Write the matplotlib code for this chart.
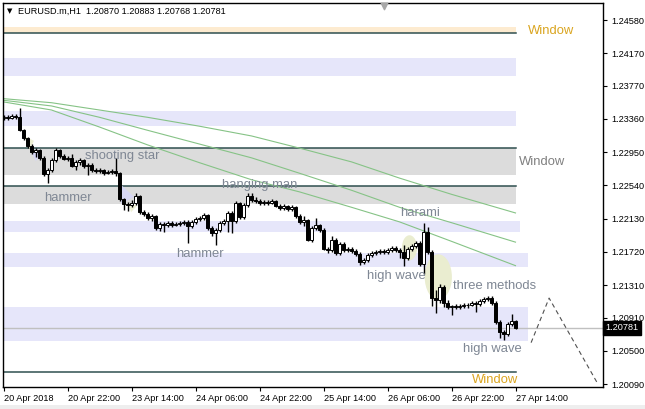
import matplotlib
matplotlib.use("Agg")
import matplotlib.pyplot as plt
import matplotlib.transforms as mtransforms
from matplotlib.patches import Ellipse, Polygon, Rectangle

plt.rcParams['font.family'] = ['Liberation Sans', 'DejaVu Sans']

# EURUSD.m H1, one candle per hour
opens = [1.2337, 1.2338, 1.2337, 1.2340, 1.2338, 1.2322, 1.2312, 1.2303, 1.2295, 1.2298,
         1.2288, 1.2268, 1.2273, 1.2285, 1.2298, 1.2290, 1.2287, 1.2288, 1.2278, 1.2283,
         1.2285, 1.2278, 1.2279, 1.2273, 1.2272, 1.2273, 1.2269, 1.2271, 1.2272, 1.2269,
         1.2237, 1.2231, 1.2230, 1.2232, 1.2241, 1.2221, 1.2219, 1.2214, 1.2216, 1.2201,
         1.2206, 1.2205, 1.2208, 1.2205, 1.2206, 1.2208, 1.2209, 1.2204, 1.2209, 1.2213,
         1.2214, 1.2217, 1.2201, 1.2195, 1.2199, 1.2208, 1.2210, 1.2220, 1.2210, 1.2232,
         1.2215, 1.2230, 1.2241, 1.2236, 1.2235, 1.2232, 1.2234, 1.2232, 1.2235, 1.2229,
         1.2226, 1.2229, 1.2225, 1.2227, 1.2216, 1.2209, 1.2211, 1.2187, 1.2201, 1.2205,
         1.2199, 1.2176, 1.2174, 1.2187, 1.2171, 1.2182, 1.2174, 1.2176, 1.2173, 1.2169,
         1.2160, 1.2162, 1.2168, 1.2171, 1.2172, 1.2173, 1.2172, 1.2174, 1.2177, 1.2174,
         1.2172, 1.2164, 1.2176, 1.2179, 1.2183, 1.2157, 1.2197, 1.2172, 1.2115, 1.2113,
         1.2129, 1.2109, 1.2104, 1.2105, 1.2104, 1.2105, 1.2106, 1.2107, 1.2109, 1.2108,
         1.2111, 1.2114, 1.2115, 1.2109, 1.2086, 1.2073, 1.2071, 1.2083, 1.20870]
highs = [1.2341, 1.2341, 1.2342, 1.2342, 1.2349, 1.2323, 1.2314, 1.2305, 1.2300, 1.2299,
         1.2290, 1.2275, 1.2288, 1.2300, 1.2299, 1.2293, 1.2290, 1.2293, 1.2285, 1.2288,
         1.2287, 1.2282, 1.2282, 1.2275, 1.2275, 1.2274, 1.2273, 1.2274, 1.2288, 1.2271,
         1.2238, 1.2234, 1.2236, 1.2245, 1.2242, 1.2224, 1.2221, 1.2219, 1.2217, 1.2209,
         1.2209, 1.2210, 1.2210, 1.2209, 1.2210, 1.2211, 1.2211, 1.2211, 1.2215, 1.2216,
         1.2220, 1.2219, 1.2204, 1.2201, 1.2210, 1.2213, 1.2222, 1.2222, 1.2235, 1.2234,
         1.2232, 1.2245, 1.2245, 1.2240, 1.2237, 1.2236, 1.2236, 1.2237, 1.2236, 1.2231,
         1.2231, 1.2230, 1.2230, 1.2229, 1.2219, 1.2216, 1.2213, 1.2204, 1.2214, 1.2206,
         1.2201, 1.2178, 1.2192, 1.2189, 1.2184, 1.2184, 1.2178, 1.2178, 1.2176, 1.2172,
         1.2164, 1.2171, 1.2173, 1.2174, 1.2176, 1.2176, 1.2177, 1.2179, 1.2179, 1.2177,
         1.2181, 1.2178, 1.2182, 1.2185, 1.2185, 1.2208, 1.2203, 1.2174, 1.2125, 1.2132,
         1.2131, 1.2113, 1.2106, 1.2108, 1.2108, 1.2109, 1.2109, 1.2111, 1.2111, 1.2114,
         1.2116, 1.2118, 1.2118, 1.2111, 1.2088, 1.2076, 1.2086, 1.2095, 1.20883]
lows = [1.2335, 1.2335, 1.2336, 1.2336, 1.2321, 1.2310, 1.2300, 1.2293, 1.2289, 1.2285,
        1.2266, 1.2257, 1.2271, 1.2283, 1.2288, 1.2285, 1.2284, 1.2277, 1.2273, 1.2279,
        1.2275, 1.2267, 1.2271, 1.2269, 1.2269, 1.2267, 1.2268, 1.2268, 1.2266, 1.2235,
        1.2224, 1.2222, 1.2227, 1.2230, 1.2219, 1.2216, 1.2211, 1.2210, 1.2199, 1.2198,
        1.2197, 1.2203, 1.2203, 1.2204, 1.2204, 1.2205, 1.2183, 1.2201, 1.2206, 1.2210,
        1.2211, 1.2199, 1.2192, 1.2181, 1.2197, 1.2205, 1.2197, 1.2195, 1.2208, 1.2213,
        1.2213, 1.2227, 1.2234, 1.2232, 1.2230, 1.2230, 1.2230, 1.2231, 1.2227, 1.2224,
        1.2224, 1.2222, 1.2222, 1.2214, 1.2206, 1.2204, 1.2185, 1.2184, 1.2199, 1.2197,
        1.2174, 1.2171, 1.2172, 1.2168, 1.2168, 1.2172, 1.2172, 1.2171, 1.2167, 1.2156,
        1.2157, 1.2160, 1.2166, 1.2168, 1.2169, 1.2169, 1.2169, 1.2172, 1.2172, 1.2164,
        1.2155, 1.2162, 1.2173, 1.2177, 1.2155, 1.2145, 1.2169, 1.2105, 1.2097, 1.2109,
        1.2104, 1.2102, 1.2094, 1.2102, 1.2102, 1.2103, 1.2103, 1.2105, 1.2098, 1.2105,
        1.2109, 1.2111, 1.2106, 1.2083, 1.2066, 1.2063, 1.2068, 1.2081, 1.20768]
closes = [1.2338, 1.2337, 1.2340, 1.2338, 1.2322, 1.2312, 1.2303, 1.2295, 1.2298, 1.2288,
          1.2268, 1.2273, 1.2285, 1.2298, 1.2290, 1.2287, 1.2288, 1.2278, 1.2283, 1.2285,
          1.2278, 1.2279, 1.2273, 1.2272, 1.2273, 1.2269, 1.2271, 1.2272, 1.2269, 1.2237,
          1.2231, 1.2230, 1.2232, 1.2241, 1.2221, 1.2219, 1.2214, 1.2216, 1.2201, 1.2206,
          1.2205, 1.2208, 1.2205, 1.2206, 1.2208, 1.2209, 1.2204, 1.2209, 1.2213, 1.2214,
          1.2217, 1.2201, 1.2195, 1.2199, 1.2208, 1.2210, 1.2220, 1.2210, 1.2232, 1.2215,
          1.2230, 1.2241, 1.2236, 1.2235, 1.2232, 1.2234, 1.2232, 1.2235, 1.2229, 1.2226,
          1.2229, 1.2225, 1.2227, 1.2216, 1.2209, 1.2211, 1.2187, 1.2201, 1.2205, 1.2199,
          1.2176, 1.2174, 1.2187, 1.2171, 1.2182, 1.2174, 1.2176, 1.2173, 1.2169, 1.2160,
          1.2162, 1.2168, 1.2171, 1.2172, 1.2173, 1.2172, 1.2174, 1.2177, 1.2174, 1.2172,
          1.2164, 1.2176, 1.2179, 1.2183, 1.2157, 1.2197, 1.2172, 1.2115, 1.2113, 1.2129,
          1.2109, 1.2104, 1.2105, 1.2104, 1.2105, 1.2106, 1.2107, 1.2109, 1.2108, 1.2111,
          1.2114, 1.2115, 1.2109, 1.2086, 1.2073, 1.2071, 1.2083, 1.2087, 1.20781]

time_ticks = [0, 16, 32, 48, 64, 80, 96, 112, 128]
time_labels = ["20 Apr 2018", "20 Apr 22:00", "23 Apr 14:00", "24 Apr 06:00", "24 Apr 22:00",
               "25 Apr 14:00", "26 Apr 06:00", "26 Apr 22:00", "27 Apr 14:00"]
price_ticks = [1.24580, 1.24170, 1.23770, 1.23360, 1.22950, 1.22540,
               1.22130, 1.21720, 1.21310, 1.20910, 1.20500, 1.20090]
last_price = 1.20781

# three moving averages, read every dozen bars or so
ma_bars = [0, 12, 24, 36, 49, 62, 74, 87, 99, 112, 128]
ma_1 = [1.2361, 1.2356, 1.2347, 1.2338, 1.2327, 1.2315, 1.2300, 1.2283, 1.2263, 1.2243, 1.2220]
ma_2 = [1.2359, 1.2352, 1.2338, 1.2322, 1.2305, 1.2288, 1.2269, 1.2248, 1.2227, 1.2208, 1.2184]
ma_3 = [1.2357, 1.2347, 1.2326, 1.2304, 1.2282, 1.2261, 1.2246, 1.2227, 1.2209, 1.2185, 1.2155]

# zones drawn by the pattern indicator
zone_lo = [1.24420, 1.23889, 1.23272, 1.22668, 1.22310, 1.21965, 1.21533, 1.20620]
zone_hi = [1.24494, 1.24111, 1.23457, 1.23001, 1.22532, 1.22101, 1.21706, 1.21040]
zone_end = [128, 128, 128, 128, 128, 129, 131, 131]
zone_kind = ['gap', 'sr', 'sr', 'window', 'window', 'sr', 'sr', 'sr']
window_lines = [1.24420, 1.23001, 1.22532, 1.20238]

pattern_names = ["shooting star", "hammer", "hanging man", "hammer", "harami",
                 "high wave", "three methods", "high wave"]
pattern_x = [20.4, 10.1, 54.6, 43.1, 99.1, 90.9, 112.4, 114.9]
pattern_y = [1.2290, 1.2238, 1.22545, 1.2169, 1.2220, 1.2142, 1.2130, 1.2052]

window_names = ["Window", "Window", "Window"]
window_x = [131.1, 128.9, 117.1]
window_y = [1.2444, 1.2283, 1.2014]
window_cols = ['#DAA520', '#808080', '#DAA520']

forecast_x = [131.9, 136.4, 148.6]
forecast_y = [1.2060, 1.2115, 1.2009]

fig = plt.figure(figsize=(6.45, 4.09), dpi=100)
ax = fig.add_axes([3 / 645, 22 / 409, 600 / 645, 384 / 409])
ax.set_xlim(-0.125, 149.875)
ax.set_ylim(1.20053, 1.24790)

zone_cols = {'gap': '#FDEBD0', 'sr': '#E6E6FA', 'window': '#DCDCDC'}
for lo, hi, end, kind in zip(zone_lo, zone_hi, zone_end, zone_kind):
    ax.fill_between([-1, end], lo, hi, color=zone_cols[kind], lw=0, zorder=0)
for p in window_lines:
    ax.plot([-1, 128], [p, p], color='#2F4F4F', lw=1.1, zorder=1)

# pattern highlight shapes
ax.add_patch(Polygon([(5.1, 1.2315), (7.6, 1.2309), (6.6, 1.2298)], closed=True,
                     facecolor='#EEF0D4', edgecolor='none', zorder=1))
ax.add_patch(Polygon([(6.6, 1.2299), (9.4, 1.2294), (8.1, 1.2284)], closed=True,
                     facecolor='#D6D6F4', edgecolor='none', zorder=1))
ax.add_patch(Polygon([(29.1, 1.2256), (32.6, 1.2240), (29.4, 1.2231)], closed=True,
                     facecolor='#D6D6F4', edgecolor='none', zorder=1))
ax.add_patch(Polygon([(31.1, 1.2232), (33.4, 1.2229), (31.9, 1.2221)], closed=True,
                     facecolor='#EEF0D4', edgecolor='none', zorder=1))
ax.add_patch(Ellipse((101.5, 1.2177), 3.8, 0.0031, facecolor='#EAEDD0', edgecolor='none', zorder=1))
ax.add_patch(Ellipse((108.7, 1.2141), 6.8, 0.0056, angle=0, facecolor='#EAEDD0',
                     edgecolor='none', zorder=1))

ax.plot(ma_bars, ma_1, color='#86C386', lw=0.8, zorder=2)
ax.plot(ma_bars, ma_2, color='#86C386', lw=0.8, zorder=2)
ax.plot(ma_bars, ma_3, color='#86C386', lw=0.8, zorder=2)

ax.axhline(last_price, color='#C0C0C0', lw=1, zorder=2)

ax.plot(forecast_x, forecast_y, color='#505050', lw=0.8, dashes=(4, 3), zorder=2)

# candles
bars = list(range(len(opens)))
ax.vlines(bars, lows, highs, color='black', lw=1, zorder=3)
bottoms = [min(o, c) for o, c in zip(opens, closes)]
heights = [abs(c - o) for o, c in zip(opens, closes)]
faces = ['white' if c > o else 'black' for o, c in zip(opens, closes)]
ax.bar(bars, heights, bottom=bottoms, width=0.55, color=faces, edgecolor='black',
       linewidth=0.7, zorder=4)

for name, x, y in zip(pattern_names, pattern_x, pattern_y):
    ax.text(x, y, name, fontsize=9.4, color='#7F8794', va='center', ha='left', zorder=5)
for name, x, y, col in zip(window_names, window_x, window_y, window_cols):
    ax.text(x, y, name, fontsize=9.4, color=col, va='center', ha='left', zorder=5)

# axes
for s in ax.spines.values():
    s.set_color('black')
    s.set_linewidth(1)
ax.yaxis.tick_right()
ax.set_yticks(price_ticks)
ax.set_yticklabels(["%.5f" % p for p in price_ticks])
ax.set_xticks(time_ticks)
ax.set_xticklabels(time_labels)
for lab in ax.get_xticklabels():
    lab.set_horizontalalignment('left')
ax.tick_params(axis='y', direction='out', length=3, pad=3, labelsize=6.6)
ax.tick_params(axis='x', direction='out', length=3, pad=2, labelsize=6.6)

trans = mtransforms.blended_transform_factory(ax.transAxes, ax.transData)
ax.text(1.004, last_price, "%.5f" % last_price, transform=trans, fontsize=6.6, color='white',
        va='center', ha='left', zorder=6,
        bbox=dict(boxstyle='square,pad=0.25', facecolor='black', edgecolor='black'))

# shift marker
ax.scatter([95], [0.992], marker='v', s=22, color='#A8A8A8', transform=ax.get_xaxis_transform(),
           clip_on=False, zorder=6)

fig.text(7 / 645, 1 - 11 / 409, '\u25bc', fontsize=5, va='center', ha='left',
         family='DejaVu Sans')
fig.text(18 / 645, 1 - 11 / 409, 'EURUSD.m,H1  1.20870 1.20883 1.20768 1.20781',
         fontsize=6.6, va='center', ha='left')
fig.patches.append(Rectangle((0, 0), 1, 4 / 409, transform=fig.transFigure,
                             facecolor='#EEEEEE', edgecolor='none'))

fig.savefig('out.png', dpi=100)
